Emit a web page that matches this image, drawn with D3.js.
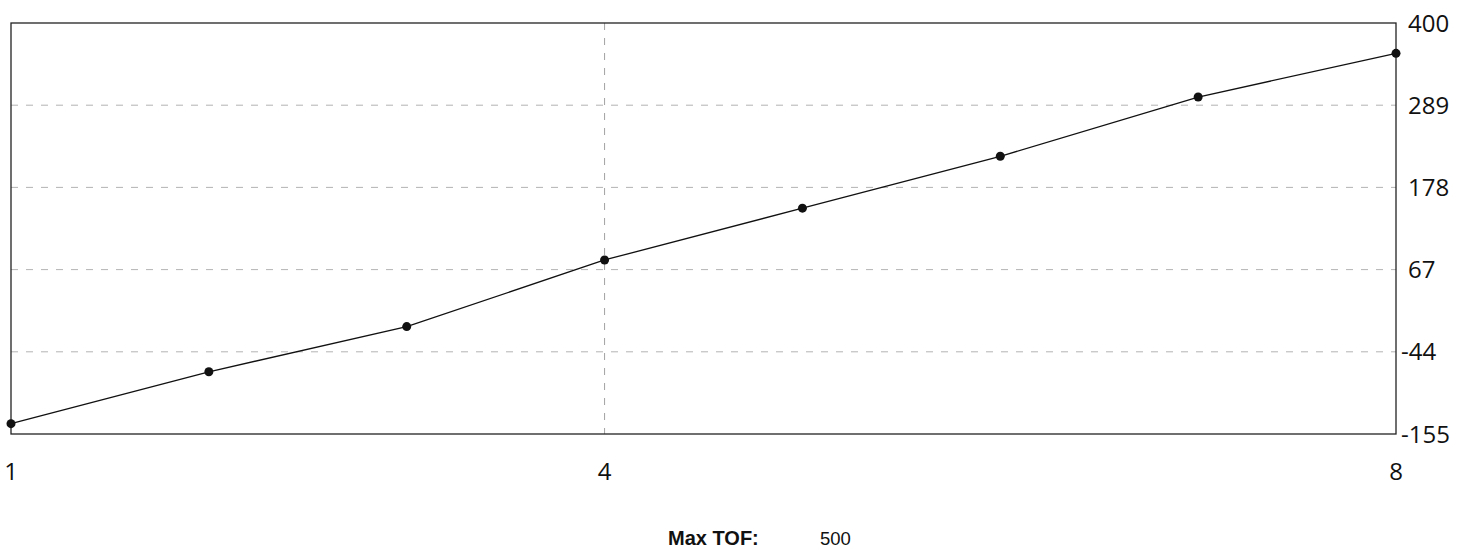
<!DOCTYPE html>
<html>
<head>
<meta charset="utf-8">
<script src="https://cdn.jsdelivr.net/npm/d3@7"></script>
<style>
  body { margin: 0; background: #fff; }
  svg { display: block; }
</style>
</head>
<body>
<svg id="chart" width="1459" height="550"></svg>
<script>
  // data
  var xs = [1, 2, 3, 4, 5, 6, 7, 8];
  var ys = [-141, -71, -10, 80, 150, 220, 300, 359];
  var yTicks = [-155, -44, 67, 178, 289, 400];
  var xTicks = [1, 4, 8];
  var footLabel = 'Max TOF:';
  var footValue = '500';

  var svg = d3.select('#chart');

  // plot box (don't call it "top", window.top is read-only)
  var pLeft = 11, pRight = 1396, pTop = 23, pBottom = 434;

  var x = d3.scaleLinear().domain([1, 8]).range([pLeft, pRight]);
  var y = d3.scaleLinear().domain([-155, 400]).range([pBottom, pTop]);

  // grid
  svg.append('g')
    .selectAll('line')
    .data(yTicks.slice(1, -1))
    .enter().append('line')
    .attr('x1', pLeft).attr('x2', pRight)
    .attr('y1', (d) => y(d)).attr('y2', (d) => y(d))
    .attr('stroke', '#a0a0a0')
    .attr('stroke-width', 0.8)
    .attr('stroke-dasharray', '7,8');

  svg.append('line')
    .attr('x1', x(4)).attr('x2', x(4))
    .attr('y1', pTop).attr('y2', pBottom)
    .attr('stroke', '#8a8a8a')
    .attr('stroke-width', 0.8)
    .attr('stroke-dasharray', '7,8');

  // frame
  svg.append('rect')
    .attr('x', pLeft).attr('y', pTop)
    .attr('width', pRight - pLeft).attr('height', pBottom - pTop)
    .attr('fill', 'none')
    .attr('stroke', '#222')
    .attr('stroke-width', 1.3);

  // line + points
  var pts = xs.map((d, i) => [d, ys[i]]);

  svg.append('path')
    .datum(pts)
    .attr('fill', 'none')
    .attr('stroke', '#111')
    .attr('stroke-width', 1.3)
    .attr('d', d3.line().x((d) => x(d[0])).y((d) => y(d[1])));

  svg.append('g')
    .selectAll('circle')
    .data(pts)
    .enter().append('circle')
    .attr('cx', (d) => x(d[0]))
    .attr('cy', (d) => y(d[1]))
    .attr('r', 4.5)
    .attr('fill', '#111');

  // right axis labels
  svg.append('g')
    .selectAll('text')
    .data(yTicks)
    .enter().append('text')
    .attr('x', (d) => d < 0 ? 1401 : 1408)
    .attr('y', (d) => y(d))
    .attr('dy', '0.36em')
    .attr('font-family', 'Open Sans, sans-serif')
    .attr('font-size', 24)
    .attr('fill', '#111')
    .text((d) => d);

  // bottom axis labels
  svg.append('g')
    .selectAll('text')
    .data(xTicks)
    .enter().append('text')
    .attr('x', (d) => x(d))
    .attr('y', 480)
    .attr('text-anchor', 'middle')
    .attr('font-family', 'Open Sans, sans-serif')
    .attr('font-size', 24)
    .attr('fill', '#111')
    .text((d) => d);

  svg.append('text')
    .attr('x', 668).attr('y', 545)
    .attr('font-family', 'Liberation Sans, Arial, sans-serif')
    .attr('font-weight', 'bold')
    .attr('font-size', 20)
    .attr('fill', '#111')
    .text(footLabel);

  svg.append('text')
    .attr('x', 820).attr('y', 545)
    .attr('font-family', 'Liberation Sans, Arial, sans-serif')
    .attr('font-size', 18.5)
    .attr('fill', '#111')
    .text(footValue);
</script>
</body>
</html>
